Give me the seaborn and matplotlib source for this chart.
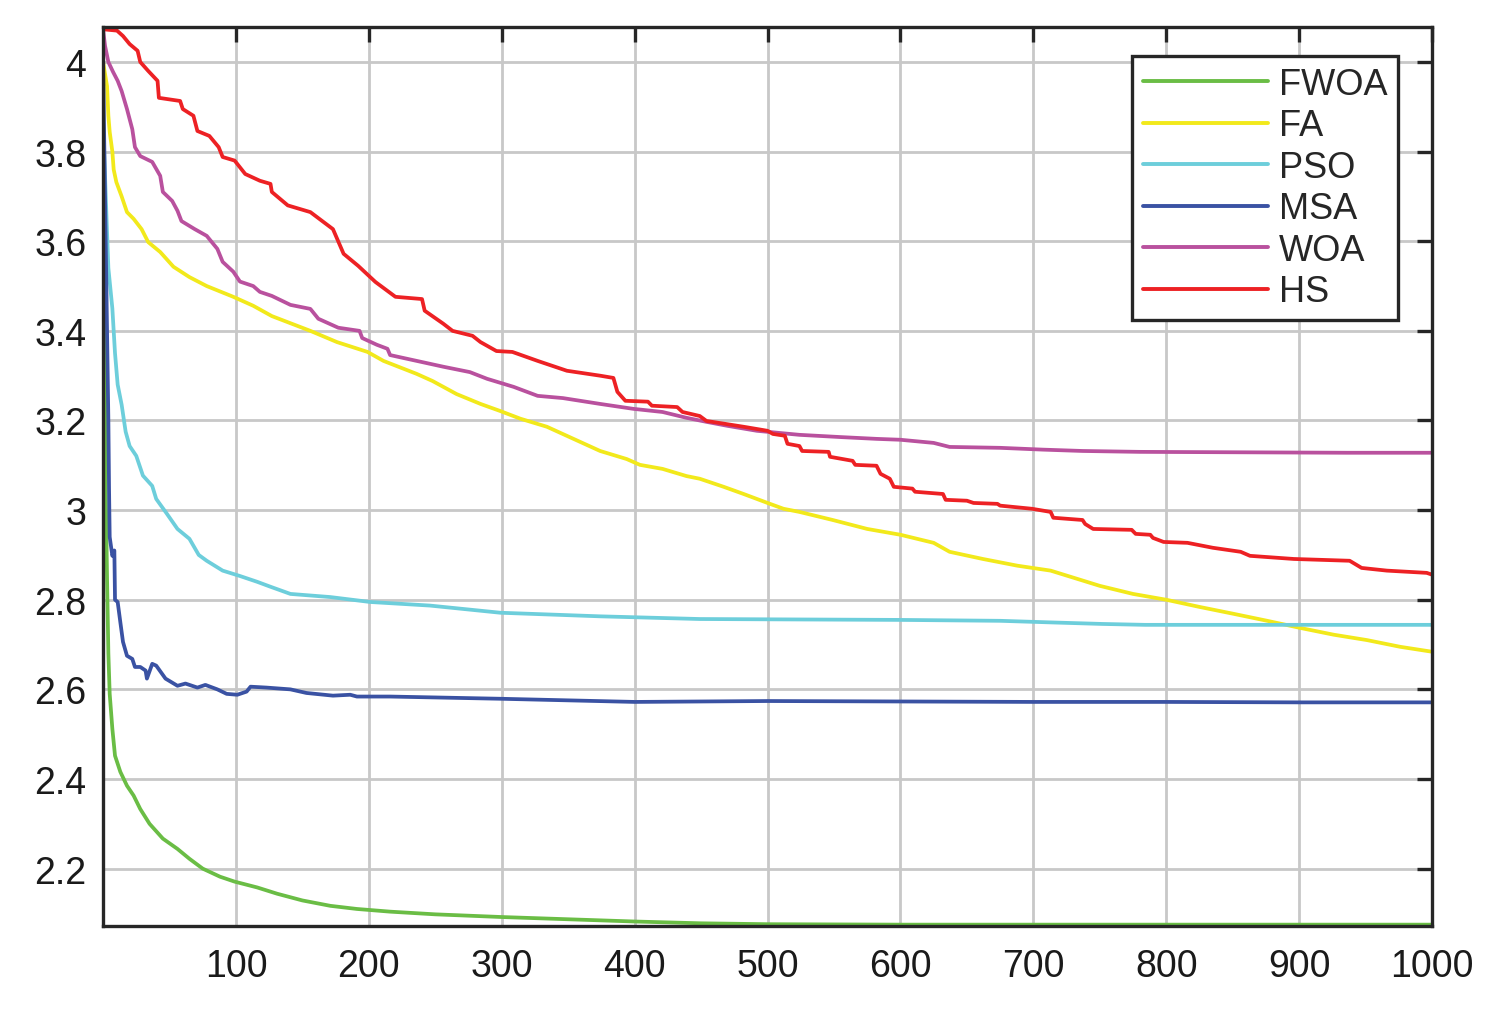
import matplotlib
matplotlib.use("Agg")
import matplotlib.pyplot as plt
import seaborn as sns
import pandas as pd

# Data
fwoa_x = [0, 1, 1.5, 2, 3, 4, 5, 7, 9, 13, 18, 23, 28, 35, 45, 56, 65, 75, 88, 99,
          116, 131, 150, 171, 191, 216, 250, 300, 350, 400, 450, 500, 600, 700, 800, 900, 1000]
fwoa_y = [3.90, 3.60, 3.30, 3.05, 2.85, 2.68, 2.59, 2.512, 2.452, 2.416, 2.385, 2.363, 2.333,
          2.30, 2.267, 2.244, 2.222, 2.20, 2.182, 2.171, 2.158, 2.144, 2.129, 2.117, 2.11,
          2.104, 2.098, 2.092, 2.087, 2.082, 2.078, 2.076, 2.075, 2.075, 2.075, 2.075, 2.075]

fa_x = [0, 3, 4, 5, 7, 8, 10, 14, 18, 23, 29, 34, 43, 53, 65, 78, 98, 113, 127, 156, 176,
        199, 211, 236, 248, 266, 284, 299, 314, 334, 374, 394, 404, 421, 439, 449, 467, 482,
        500, 512, 524, 549, 575, 600, 625, 637, 662, 688, 713, 750, 775, 800, 825, 850, 876,
        901, 926, 951, 976, 1000]
fa_y = [4.00, 3.946, 3.88, 3.844, 3.80, 3.76, 3.732, 3.70, 3.665, 3.65, 3.627, 3.598, 3.576,
        3.543, 3.52, 3.50, 3.476, 3.456, 3.433, 3.40, 3.375, 3.353, 3.333, 3.304, 3.288,
        3.259, 3.237, 3.221, 3.204, 3.186, 3.132, 3.114, 3.101, 3.092, 3.076, 3.07, 3.052,
        3.036, 3.016, 3.003, 2.996, 2.978, 2.958, 2.945, 2.927, 2.907, 2.891, 2.876, 2.865,
        2.831, 2.813, 2.80, 2.784, 2.769, 2.753, 2.737, 2.722, 2.71, 2.695, 2.684]

pso_x = [0, 3, 4, 7, 9, 11, 14, 17, 20, 25, 30, 37, 40, 48, 56, 65, 72, 78, 90, 103, 116,
         126, 141, 171, 201, 246, 299, 374, 449, 524, 600, 675, 718, 752, 784, 1000]
pso_y = [3.87, 3.62, 3.54, 3.45, 3.35, 3.28, 3.235, 3.175, 3.143, 3.121, 3.077, 3.054, 3.025,
         2.992, 2.958, 2.936, 2.90, 2.887, 2.865, 2.853, 2.84, 2.829, 2.813, 2.806, 2.795,
         2.787, 2.771, 2.763, 2.757, 2.756, 2.755, 2.753, 2.749, 2.746, 2.744, 2.744]

msa_x = [0, 1.5, 3, 4, 4.5, 5, 7, 8.5, 9, 11, 13, 15, 18, 22, 24, 28, 32, 33, 37, 40, 47,
         56, 62, 71, 77, 86, 93, 101, 108, 111, 123, 141, 153, 173, 186, 191, 216, 300, 400,
         500, 600, 700, 800, 900, 1000]
msa_y = [4.00, 3.70, 3.40, 3.20, 3.05, 2.94, 2.898, 2.91, 2.80, 2.795, 2.75, 2.706, 2.675,
         2.668, 2.65, 2.65, 2.642, 2.624, 2.657, 2.653, 2.624, 2.608, 2.613, 2.604, 2.61,
         2.60, 2.59, 2.588, 2.595, 2.606, 2.604, 2.60, 2.592, 2.586, 2.588, 2.584, 2.584,
         2.579, 2.572, 2.574, 2.573, 2.572, 2.572, 2.571, 2.571]

woa_x = [0, 1.5, 4, 7.5, 11, 14, 18, 22, 24, 28, 37, 43, 45, 52, 56, 59, 69, 78, 86, 90, 98,
         103, 113, 118, 127, 141, 156, 162, 177, 193, 195, 206, 214, 216, 236, 256, 276, 289,
         309, 327, 346, 374, 399, 421, 439, 454, 470, 492, 524, 555, 582, 600, 625, 637, 675,
         707, 737, 780, 936, 1000]
woa_y = [4.073, 4.036, 4.00, 3.978, 3.958, 3.935, 3.895, 3.85, 3.81, 3.79, 3.777, 3.746, 3.71,
         3.69, 3.668, 3.645, 3.627, 3.612, 3.583, 3.554, 3.532, 3.51, 3.50, 3.487, 3.478,
         3.458, 3.449, 3.427, 3.407, 3.40, 3.384, 3.369, 3.36, 3.346, 3.333, 3.32, 3.308,
         3.293, 3.275, 3.255, 3.25, 3.237, 3.226, 3.219, 3.206, 3.197, 3.188, 3.177, 3.168,
         3.163, 3.159, 3.157, 3.15, 3.141, 3.139, 3.135, 3.132, 3.13, 3.128, 3.128]

hs_x = [0, 10.5, 15, 20, 26, 28, 34, 41, 42, 58, 60, 68, 71, 80, 87, 90, 99, 107, 118, 126,
        127, 139, 156, 173, 181, 192, 205, 220, 240, 242, 256, 263, 278, 284, 296, 308, 327,
        349, 374, 384, 387, 393, 410, 413, 432, 436, 449, 454, 467, 482, 500, 504, 513, 515,
        524, 526, 546, 547, 564, 566, 582, 585, 592, 595, 609, 611, 632, 634, 650, 655, 673,
        675, 699, 713, 715, 737, 739, 745, 774, 777, 788, 790, 798, 816, 835, 856, 863, 896,
        938, 947, 966, 996, 1000]
hs_y = [4.073, 4.07, 4.058, 4.04, 4.025, 4.0, 3.98, 3.958, 3.92, 3.913, 3.895, 3.88, 3.846,
        3.835, 3.81, 3.788, 3.78, 3.75, 3.735, 3.728, 3.71, 3.68, 3.665, 3.627, 3.572, 3.545,
        3.509, 3.476, 3.471, 3.445, 3.416, 3.40, 3.389, 3.375, 3.355, 3.353, 3.333, 3.311,
        3.30, 3.295, 3.264, 3.244, 3.242, 3.233, 3.23, 3.219, 3.21, 3.199, 3.193, 3.186,
        3.177, 3.17, 3.166, 3.148, 3.143, 3.132, 3.13, 3.119, 3.11, 3.101, 3.099, 3.081,
        3.07, 3.052, 3.048, 3.041, 3.036, 3.023, 3.021, 3.016, 3.014, 3.01, 3.003, 2.996,
        2.983, 2.978, 2.969, 2.958, 2.956, 2.947, 2.945, 2.938, 2.929, 2.927, 2.916, 2.907,
        2.898, 2.891, 2.887, 2.871, 2.865, 2.86, 2.856]

names = ["FWOA", "FA", "PSO", "MSA", "WOA", "HS"]
colors = ["#6abd45", "#f2e91b", "#6dcedb", "#3a52a3", "#b9519e", "#ed2124"]
series = [(fwoa_x, fwoa_y), (fa_x, fa_y), (pso_x, pso_y), (msa_x, msa_y),
          (woa_x, woa_y), (hs_x, hs_y)]

frames = [pd.DataFrame({"iter": sx, "value": sy, "algo": n}) for n, (sx, sy) in zip(names, series)]
df = pd.concat(frames, ignore_index=True)

# Plot
sns.set_style("white")
plt.rcParams['font.family'] = ['Liberation Sans', 'DejaVu Sans']

fig = plt.figure(figsize=(15, 10.12), dpi=100)
ax = fig.add_axes([0.0687, 0.084, 0.886, 0.8883])

sns.lineplot(data=df, x="iter", y="value", hue="algo", hue_order=names,
             palette=dict(zip(names, colors)), estimator=None, sort=False, ax=ax)
for line in ax.lines:
    line.set_linewidth(2.7)

ax.set_xlim(0, 1000)
ax.set_ylim(2.072, 4.078)
ax.set_xticks(range(100, 1001, 100))
yt = [2.2, 2.4, 2.6, 2.8, 3.0, 3.2, 3.4, 3.6, 3.8, 4.0]
ax.set_yticks(yt)
ax.set_yticklabels([f"{v:g}" for v in yt])
ax.set_xlabel("")
ax.set_ylabel("")

ax.set_axisbelow(True)
ax.grid(True, color="#c8c8c8", linewidth=2.0)
for s in ax.spines.values():
    s.set_color("#262626")
    s.set_linewidth(2.4)
ax.tick_params(direction="in", top=True, right=True, length=11, width=2.4,
               color="#262626", labelsize=27, labelcolor="#1a1a1a")
ax.tick_params(axis="x", pad=16)
ax.tick_params(axis="y", pad=12)

leg = ax.legend(loc="upper right", bbox_to_anchor=(0.9744, 0.9677), borderaxespad=0,
                fontsize=26, handlelength=3.45, handletextpad=0.3, labelspacing=0.18,
                fancybox=False, framealpha=1, edgecolor="#262626", borderpad=0.3)
leg.get_frame().set_linewidth(2.4)
for line in leg.get_lines():
    line.set_linewidth(2.8)

fig.savefig("out.png", dpi=100)
